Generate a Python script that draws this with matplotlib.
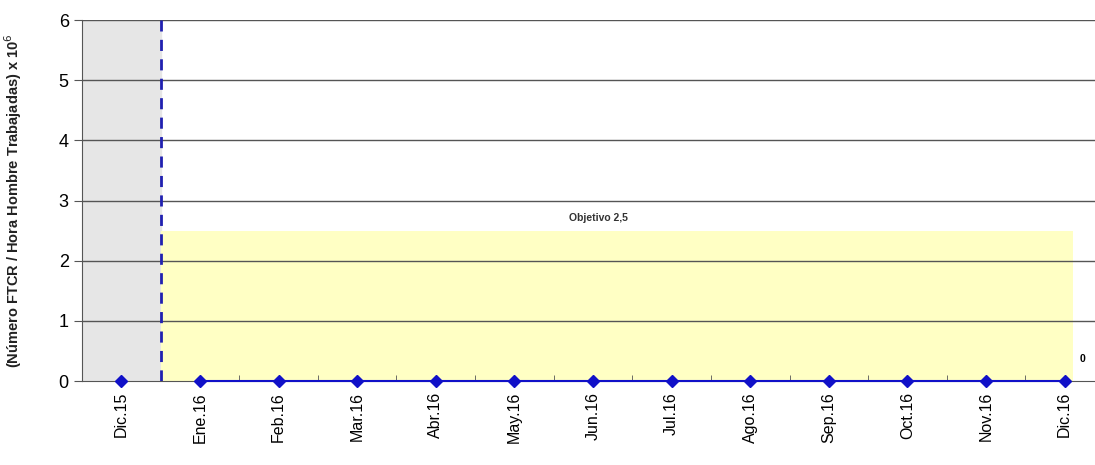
import matplotlib
matplotlib.use("Agg")
import matplotlib.pyplot as plt
import numpy as np

plt.rcParams['font.family'] = ['Liberation Sans', 'DejaVu Sans']

months = ["Dic.15", "Ene.16", "Feb.16", "Mar.16", "Abr.16", "May.16", "Jun.16",
          "Jul.16", "Ago.16", "Sep.16", "Oct.16", "Nov.16", "Dic.16"]
prev_value = [0]
values_2016 = [0, 0, 0, 0, 0, 0, 0, 0, 0, 0, 0, 0]
objetivo = 2.5

fig = plt.figure(figsize=(10.95, 4.65), dpi=100)
ax = fig.add_axes([82 / 1095, 1 - 381 / 465, 1 - 82 / 1095, (381 - 20) / 465])

x = np.arange(len(months))

# background zones: previous year (grey) and target band (yellow)
ax.axvspan(-0.5, 0.5, color="#e6e6e6", zorder=0)
ax.fill_between([0.5, 12.11], 0, objetivo, color="#ffffc4", zorder=0.5, linewidth=0)

for yv in range(1, 7):
    ax.axhline(yv, color="#555555", lw=1.0, zorder=1)

ax.axvline(0.5, color="#2020b0", lw=2, ls=(0, (4, 3)), zorder=3)

ax.plot(x[:1], prev_value, ls="none", marker="D", ms=6, color="#1010c8",
        zorder=4, clip_on=False)
ax.plot(x[1:], values_2016, marker="D", ms=6, color="#1010c8", lw=1.5,
        zorder=4, clip_on=False)

ax.text(6.07, 2.62, "Objetivo 2,5", fontsize=7.5, fontweight="bold", color="#333333",
        ha="center", va="bottom")
ax.annotate(str(values_2016[-1]), (x[-1], values_2016[-1]), xytext=(13, 14),
            textcoords="offset points", fontsize=7.5, fontweight="bold", ha="center")

ax.set_xlim(-0.5, 12.386)
ax.set_ylim(0, 6)
ax.set_yticks(range(0, 7))
ax.set_xticks(x)
ax.set_xticklabels(months, rotation=90, fontsize=11.5)
ax.set_xticks(x[:-1] + 0.5, minor=True)
ax.tick_params(axis="x", which="major", length=0, pad=8)
ax.tick_params(axis="x", which="minor", length=4, direction="in", color="#555555")
ax.tick_params(axis="y", labelsize=13, length=6, color="#555555")

for s in ["top", "right"]:
    ax.spines[s].set_visible(False)
ax.spines["left"].set_color("#555555")
ax.spines["bottom"].set_color("#555555")

ax.set_ylabel("(Número FTCR / Hora Hombre Trabajadas) x 10$^{6}$", fontsize=10.5,
              fontweight="bold", color="#222222")
ax.yaxis.set_label_coords(-58 / 1013, 0.50)

fig.savefig("out.png", dpi=100)
